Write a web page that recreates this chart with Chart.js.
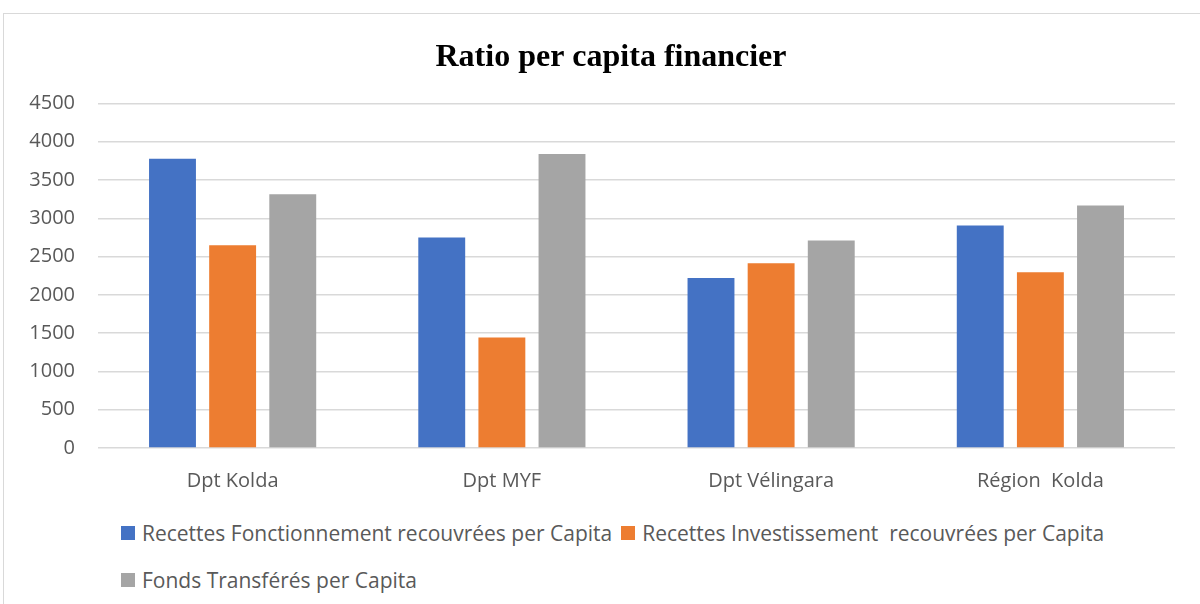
<!DOCTYPE html>
<html>
<head>
<meta charset="utf-8">
<script src="https://cdn.jsdelivr.net/npm/chart.js@4"></script>
<style>
    html, body { margin: 0; padding: 0; background: #fff; overflow: hidden; }
    #frame {
        position: absolute; left: 3px; top: 13px;
        width: 1240px; height: 620px;
        border: 1px solid #d9d9d9;
    }
    #wrap { position: absolute; left: 0; top: 0; width: 1222px; height: 497px; }
    #legend {
        position: absolute; left: 121px; top: 509px; width: 1000px;
        margin: 0; padding: 0; list-style: none;
        font-family: 'Open Sans', sans-serif; font-size: 21px; color: #595959;
        line-height: 46px;
    }
    #legend li { display: inline-flex; align-items: center; margin-right: 9px; white-space: pre; }
    #legend .box { display: inline-block; width: 14px; height: 14px; margin-right: 7px; }
</style>
</head>
<body>
<div id="frame"></div>
<div id="wrap"><canvas id="ratioChart"></canvas></div>
<ul id="legend"></ul>
<script>
// ========== DONNÉES ==========
const categories = ['Dpt Kolda', 'Dpt MYF', 'Dpt Vélingara', 'Région  Kolda'];
const seriesNames = [
    'Recettes Fonctionnement recouvrées per Capita',
    'Recettes Investissement  recouvrées per Capita',
    'Fonds Transférés per Capita'
];
const fonctionnement = [3776, 2749, 2221, 2906];
const investissement = [2649, 1442, 2413, 2296];
const fondsTransferes = [3315, 3838, 2710, 3167];
const yTicks = [0, 500, 1000, 1500, 2000, 2500, 3000, 3500, 4000, 4500];

const COLORS = ['#4472c4', '#ed7d31', '#a5a5a5'];
const TEXT_FONT = "'Open Sans', sans-serif";

function makeDataset(label, data, color) {
    return {
        label: label,
        data: data,
        backgroundColor: color,
        borderWidth: 0,
        categoryPercentage: 0.67,
        barPercentage: 0.78
    };
}

// Légende HTML (espacement serré comme dans Excel)
const htmlLegend = {
    id: 'htmlLegend',
    afterUpdate(chart) {
        const list = document.getElementById('legend');
        list.innerHTML = '';
        const items = Chart.defaults.plugins.legend.labels.generateLabels(chart);
        items.forEach(item => {
            const li = document.createElement('li');
            const box = document.createElement('span');
            box.className = 'box';
            box.style.background = item.fillStyle;
            const text = document.createElement('span');
            text.textContent = item.text;
            li.appendChild(box);
            li.appendChild(text);
            list.appendChild(li);
        });
    }
};

new Chart(document.getElementById('ratioChart'), {
    type: 'bar',
    data: {
        labels: categories,
        datasets: [
            makeDataset(seriesNames[0], fonctionnement, COLORS[0]),
            makeDataset(seriesNames[1], investissement, COLORS[1]),
            makeDataset(seriesNames[2], fondsTransferes, COLORS[2])
        ]
    },
    plugins: [htmlLegend],
    options: {
        responsive: true,
        maintainAspectRatio: false,
        animation: false,
        layout: { padding: 0 },
        plugins: {
            title: {
                display: true,
                text: 'Ratio per capita financier',
                color: '#000',
                font: { family: "'Liberation Serif', serif", size: 32, weight: 'bold', lineHeight: 1.2 },
                padding: { top: 39, bottom: 26 }
            },
            legend: { display: false },
            tooltip: { enabled: false }
        },
        scales: {
            x: {
                grid: { display: false },
                border: { display: false },
                ticks: {
                    color: '#595959',
                    padding: 13,
                    font: { family: TEXT_FONT, size: 20 }
                },
                afterFit: function (scale) { scale.height = 49; }
            },
            y: {
                min: 0,
                max: 4500,
                border: { display: false },
                grid: { color: '#d9d9d9', lineWidth: 1.5, drawTicks: false },
                afterBuildTicks: function (scale) {
                    scale.ticks = yTicks.map(v => ({ value: v }));
                },
                ticks: {
                    color: '#595959',
                    padding: 23,
                    font: { family: TEXT_FONT, size: 20 },
                    callback: function (value) { return String(value); }
                },
                afterFit: function (scale) { scale.width = 98; }
            },
            // axe vide à droite : garde la marge droite sans décaler le titre
            yRight: {
                position: 'right',
                display: true,
                grid: { display: false },
                border: { display: false },
                ticks: { display: false },
                afterFit: function (scale) { scale.width = 47; }
            }
        }
    }
});
</script>
</body>
</html>
